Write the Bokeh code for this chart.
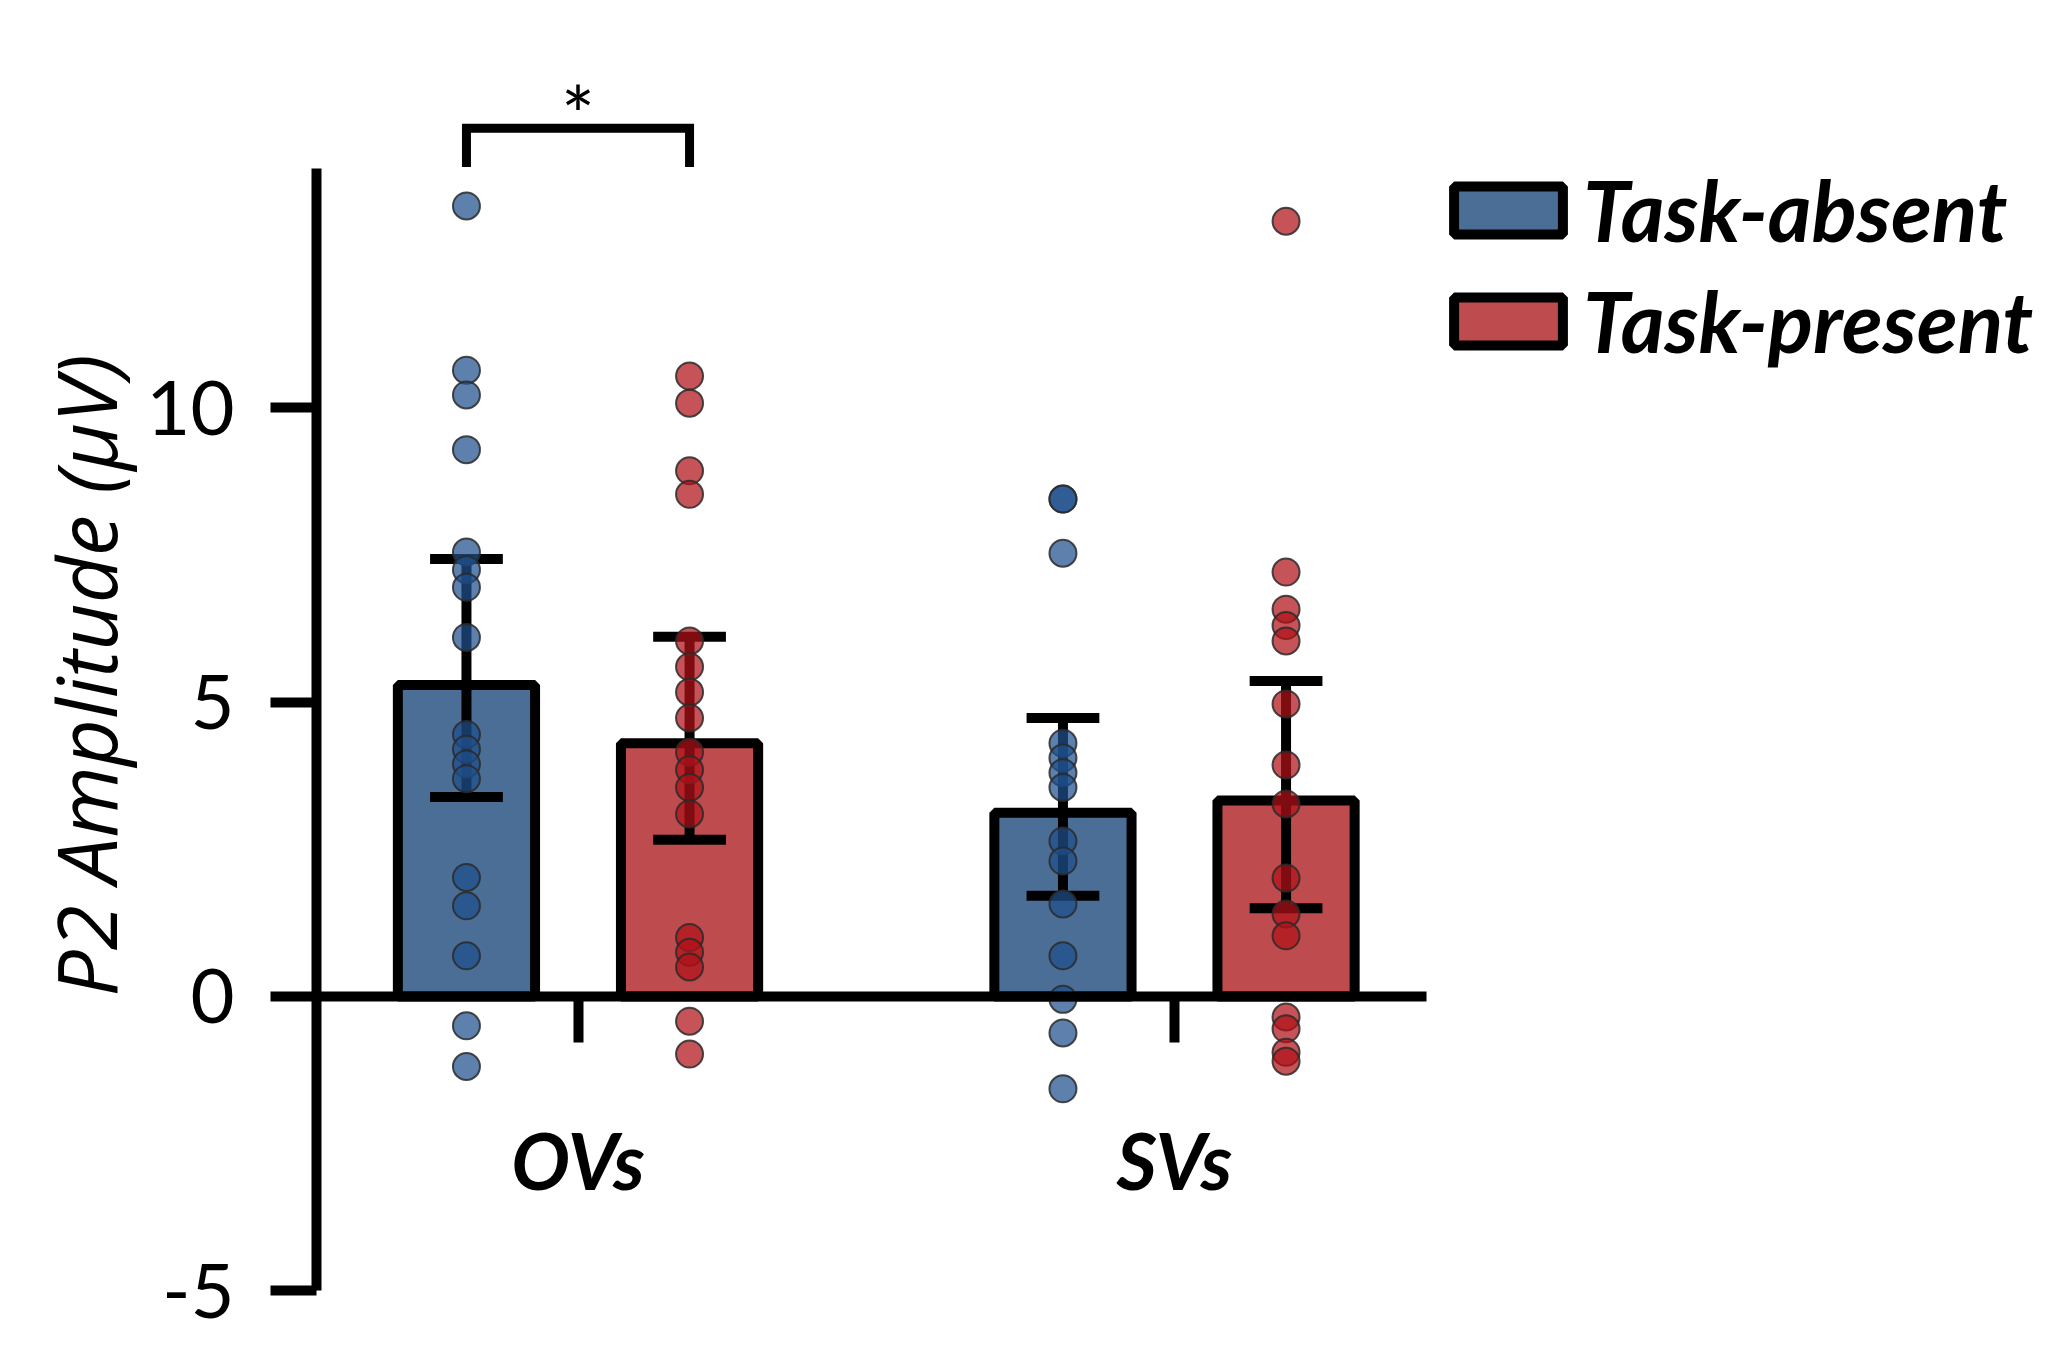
import numpy as np
from bokeh.plotting import figure
from bokeh.models import FixedTicker, Range1d, Legend, LegendItem
from bokeh.core.properties import value
from bokeh.embed import file_html
from bokeh.resources import INLINE

# ---------------- data ----------------
categories = ["OVs", "SVs"]
conditions = ["Task-absent", "Task-present"]

mean_absent = [5.29, 3.12]
mean_present = [4.30, 3.33]
ci_low_absent = [3.39, 1.71]
ci_high_absent = [7.43, 4.73]
ci_low_present = [2.66, 1.50]
ci_high_present = [6.11, 5.36]

ovs_absent = [13.43, 10.64, 10.22, 9.29, 7.55, 7.25, 6.95, 6.10, 4.45, 4.20,
              3.95, 3.70, 2.02, 1.54, 0.69, -0.50, -1.19]
ovs_present = [10.54, 10.08, 8.93, 8.53, 6.04, 5.60, 5.17, 4.73, 4.15, 3.85,
               3.55, 3.10, 1.00, 0.75, 0.50, -0.42, -0.98]
svs_absent = [8.45, 8.45, 7.53, 4.30, 4.05, 3.80, 3.55, 2.64, 2.30, 1.57,
              0.69, -0.05, -0.62, -1.57]
svs_present = [13.17, 7.21, 6.58, 6.30, 6.04, 4.97, 3.93, 3.27, 2.01, 1.40,
               1.03, -0.35, -0.55, -0.95, -1.10]

y_ticks = [-5, 0, 5, 10]
y_tick_labels = {-5: "-5", 0: "0", 5: "5", 10: "10"}
y_axis_top = 14.07
sig_low, sig_high = 14.09, 14.75
sig_text = "*"
y_label = "P2 Amplitude (\u03bcV)"

BLUE = "#4B6E96"
RED = "#BE4B4E"
DOT_BLUE = "#1F4F8C"
DOT_RED = "#B01018"

# ---------------- layout ----------------
group_x = np.arange(len(categories), dtype=float)
offset = 0.187
bar_w = 0.23
cap_w = 0.122
x_abs = group_x - offset
x_pre = group_x + offset
x_axis_end = 1.4225

p = figure(frame_width=1724, frame_height=1254,
           x_range=Range1d(-0.4384, 2.4518), y_range=Range1d(-5.2, 16.105),
           output_backend="svg", toolbar_location=None,
           min_border_left=316, min_border_top=48, min_border_right=0,
           min_border_bottom=42)
p.outline_line_color = None
p.grid.visible = False
p.background_fill_color = "white"
p.border_fill_color = "white"

# bars
r_abs = p.vbar(x=x_abs, top=mean_absent, bottom=0, width=bar_w,
               fill_color=BLUE, line_color="black", line_width=10)
r_pre = p.vbar(x=x_pre, top=mean_present, bottom=0, width=bar_w,
               fill_color=RED, line_color="black", line_width=10)

# error bars
ex = np.concatenate([x_abs, x_pre])
elo = np.array(ci_low_absent + ci_low_present)
ehi = np.array(ci_high_absent + ci_high_present)
p.segment(x0=ex, y0=elo, x1=ex, y1=ehi, line_color="black", line_width=10)
p.segment(x0=np.concatenate([ex, ex]) - cap_w / 2, y0=np.concatenate([elo, ehi]),
          x1=np.concatenate([ex, ex]) + cap_w / 2, y1=np.concatenate([elo, ehi]),
          line_color="black", line_width=10)

# individual points
def pts(xc, vals, col):
    p.scatter(x=[xc] * len(vals), y=vals, size=27, fill_color=col, fill_alpha=0.72,
              line_color="#2a2a2a", line_width=2, line_alpha=0.85)

pts(x_abs[0], ovs_absent, DOT_BLUE)
pts(x_pre[0], ovs_present, DOT_RED)
pts(x_abs[1], svs_absent, DOT_BLUE)
pts(x_pre[1], svs_present, DOT_RED)

# significance bracket
p.line(x=[x_abs[0], x_abs[0], x_pre[0], x_pre[0]],
       y=[sig_low, sig_high, sig_high, sig_low],
       line_color="black", line_width=9, line_join="miter")
p.text(x=[(x_abs[0] + x_pre[0]) / 2], y=[sig_high], text=[sig_text],
       text_font=value("Lato"), text_font_size="80px", text_align="center",
       text_baseline="alphabetic", text_color="black", y_offset=-15)

# axes
yax = p.yaxis[0]
yax.ticker = FixedTicker(ticks=y_ticks)
yax.major_label_overrides = y_tick_labels
yax.bounds = (y_ticks[0], y_axis_top)
yax.axis_line_width = 10
yax.axis_line_color = "black"
yax.major_tick_line_width = 10
yax.major_tick_line_color = "black"
yax.major_tick_out = 46
yax.major_tick_in = 0
yax.minor_tick_out = 0
yax.minor_tick_in = 0
yax.major_label_text_font = "Lato"
yax.major_label_text_font_size = "76px"
yax.major_label_text_color = "black"
yax.major_label_standoff = 36
yax.axis_label = y_label
yax.axis_label_text_font = "Open Sans"
yax.axis_label_text_font_style = "italic"
yax.axis_label_text_font_size = "82px"
yax.axis_label_text_color = "black"
yax.axis_label_standoff = 2

xax = p.xaxis[0]
xax.fixed_location = 0
xax.ticker = FixedTicker(ticks=list(group_x))
xax.major_label_overrides = {int(i): c for i, c in enumerate(categories)}
xax.bounds = (p.x_range.start, x_axis_end)
xax.axis_line_width = 10
xax.axis_line_color = "black"
xax.major_tick_line_width = 10
xax.major_tick_line_color = "black"
xax.major_tick_out = 46
xax.major_tick_in = 0
xax.minor_tick_out = 0
xax.minor_tick_in = 0
xax.major_label_text_font = "Lato"
xax.major_label_text_font_style = "bold italic"
xax.major_label_text_font_size = "78px"
xax.major_label_text_color = "black"
xax.major_label_standoff = 71

# legend
legend = Legend(items=[LegendItem(label=conditions[0], renderers=[r_abs]),
                       LegendItem(label=conditions[1], renderers=[r_pre])],
                location=(1124, 931), orientation="vertical",
                glyph_width=136, glyph_height=60, label_standoff=7,
                spacing=10, padding=0, margin=0,
                border_line_color=None, background_fill_alpha=0,
                label_text_font="Lato", label_text_font_style="bold italic",
                label_text_font_size="84px", label_text_color="black")
p.add_layout(legend, "center")

open("out.html", "w").write(file_html(p, INLINE))
